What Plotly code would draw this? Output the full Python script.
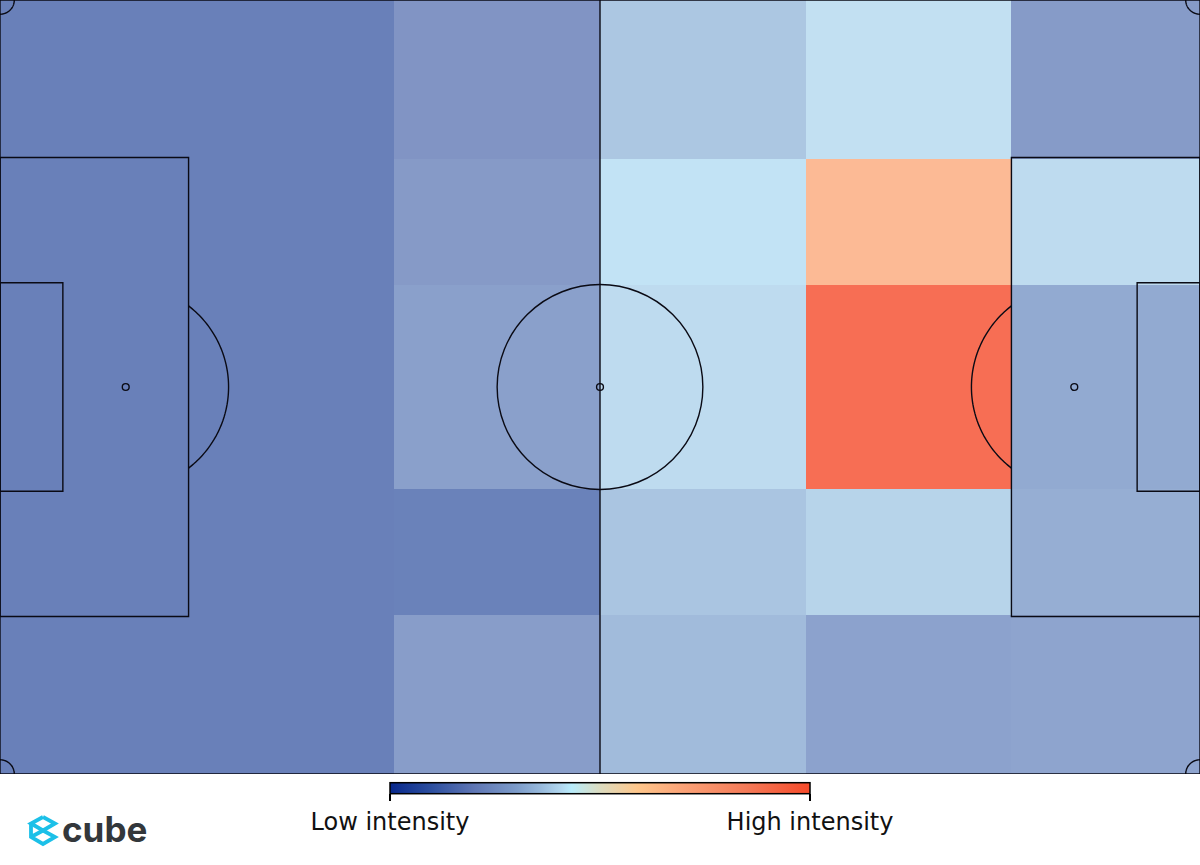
import numpy as np
import plotly.graph_objects as go

# Pitch grid (metres) and intensity per zone, rows listed bottom to top of the picture
x_edges = [0, 16.5, 34.5, 52.5, 70.5, 88.5, 105]
y_edges = [0, 13.96, 25, 43, 54, 68]
row_1 = [0.145, 0.145, 0.24, 0.33, 0.26, 0.265]
row_2 = [0.145, 0.145, 0.15, 0.355, 0.385, 0.30]
row_3 = [0.145, 0.145, 0.25, 0.40, 1.00, 0.285]
row_4 = [0.145, 0.145, 0.23, 0.415, 0.68, 0.40]
row_5 = [0.145, 0.145, 0.21, 0.36, 0.41, 0.235]
intensity = [row_1, row_2, row_3, row_4, row_5]

scale_stops = [0, 0.1, 0.2, 0.3, 0.36, 0.41, 0.432, 0.5, 0.588, 0.7, 0.85, 1]
scale_colors = ["#08288c", "#2d4f9f", "#5f76b4", "#7c9bc9", "#98badc", "#b3d9f0",
                "#b8ecfb", "#dcdcc0", "#fec78c", "#fba277", "#f47a58", "#f64a2a"]
tick_labels = ["Low intensity", "High intensity"]

W, H, PITCH_H = 1200, 865, 774
LINE = dict(color="#0a0a14", width=1.4)

fig = go.Figure(go.Heatmap(
    x=x_edges, y=y_edges, z=intensity, zmin=0, zmax=1,
    colorscale=[[s, c] for s, c in zip(scale_stops, scale_colors)],
    opacity=0.8, hoverinfo="skip", xgap=0, ygap=0,
    colorbar=dict(
        orientation="h", thickness=11, thicknessmode="pixels",
        len=420, lenmode="pixels", xref="container", yref="container",
        x=390 / W, xanchor="left", y=1 - 837 / H, yanchor="bottom",
        outlinecolor="#000000", outlinewidth=1.5,
        tickmode="array", tickvals=[0, 1], ticktext=tick_labels,
        ticks="outside", ticklen=7, tickwidth=1.5, tickcolor="#000000",
        tickfont=dict(family="DejaVu Sans", size=24, color="#111111"),
        ypad=0, xpad=0,
    ),
))


def rect(x0, y0, x1, y1):
    return dict(type="rect", x0=x0, y0=y0, x1=x1, y1=y1, line=LINE, layer="above")


def circle(cx, cy, rx, ry=None):
    ry = rx if ry is None else ry
    return dict(type="circle", x0=cx - rx, x1=cx + rx, y0=cy - ry, y1=cy + ry,
                line=LINE, layer="above")


def arc(cx, cy, r, a0, a1):
    t = np.radians(np.linspace(a0, a1, 80))
    pts = [f"{cx + r * np.cos(a):.3f},{cy + r * np.sin(a):.3f}" for a in t]
    return dict(type="path", path="M" + "L".join(pts), line=LINE, layer="above")


L, W_M, CY = 105, 68, 34
D_R = 9.0
D_ANGLE = float(np.degrees(np.arccos(5.5 / D_R)))
shapes = [
    rect(0, 0, L, W_M),
    dict(type="line", x0=L / 2, x1=L / 2, y0=0, y1=W_M, line=LINE, layer="above"),
    circle(L / 2, CY, 9.0),
    circle(L / 2, CY, 0.3),
    circle(11, CY, 0.3),
    circle(L - 11, CY, 0.3),
    rect(0, CY - 20.16, 16.5, CY + 20.16),
    rect(L - 16.5, CY - 20.16, L, CY + 20.16),
    rect(0, CY - 9.16, 5.5, CY + 9.16),
    rect(L - 5.5, CY - 9.16, L, CY + 9.16),
    arc(11, CY, D_R, -D_ANGLE, D_ANGLE),
    arc(L - 11, CY, D_R, 180 - D_ANGLE, 180 + D_ANGLE),
    arc(0, 0, 1.25, 0, 90),
    arc(L, 0, 1.25, 90, 180),
    arc(0, W_M, 1.25, -90, 0),
    arc(L, W_M, 1.25, 180, 270),
]


# Logo, placed in page pixels
def page(px, py):
    return px / W, 1 - py / PITCH_H


logo_pts = [(43, 817), (55, 823.5), (43, 830.5), (31, 823.5), (43, 817)]
logo_pts2 = [(31, 823.5), (31, 837), (43, 844), (55, 837), (43, 830.5), (31, 837)]
for pts in (logo_pts, logo_pts2):
    path = "M" + "L".join("{:.5f},{:.5f}".format(*page(*p)) for p in pts)
    shapes.append(dict(type="path", xref="paper", yref="paper", path=path,
                       line=dict(color="#1cc0e8", width=3.8)))

fig.update_layout(
    width=W, height=H, autosize=False,
    margin=dict(l=0, r=0, t=0, b=H - PITCH_H, autoexpand=False),
    paper_bgcolor="white", plot_bgcolor="white",
    xaxis=dict(range=[0, L], visible=False, fixedrange=True),
    yaxis=dict(range=[0, W_M], visible=False, fixedrange=True),
    shapes=shapes,
    annotations=[dict(
        text="<b>cube</b>", xref="paper", yref="paper", showarrow=False,
        x=60 / W, xanchor="left", y=page(0, 829)[1], yanchor="middle",
        font=dict(family="Inter", size=35, color="#33373b"),
    )],
)

fig.write_html("out.html", post_script="document.body.style.margin='0';",
               config=dict(displayModeBar=False))
